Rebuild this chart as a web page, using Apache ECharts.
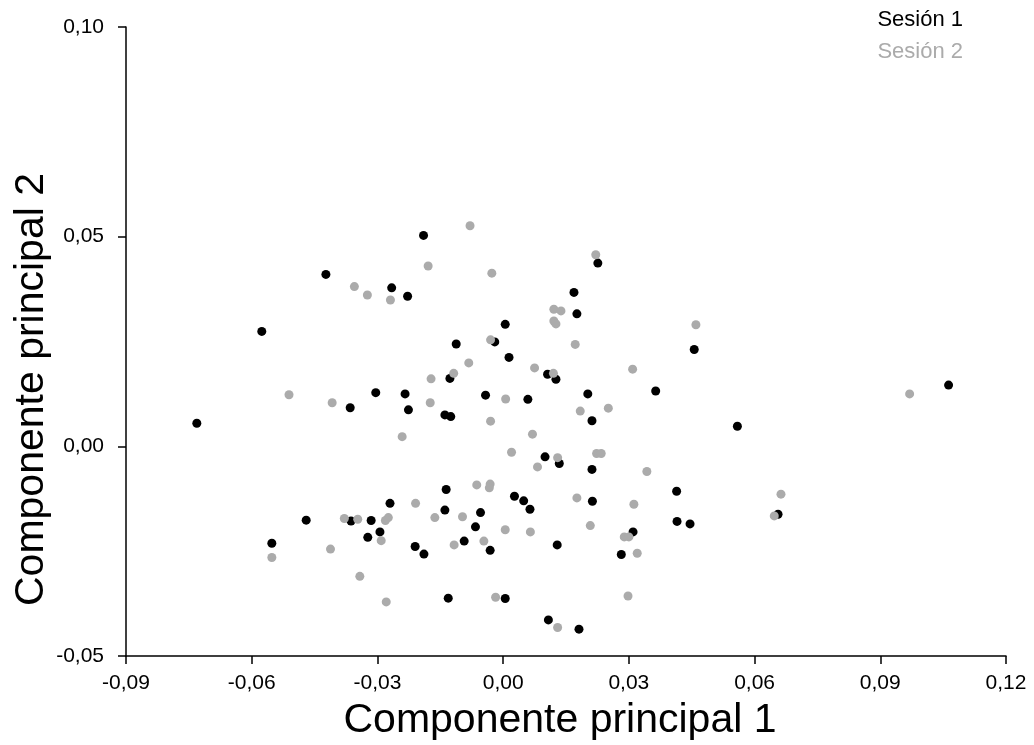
<!DOCTYPE html>
<html>
<head>
<meta charset="utf-8">
<script src="https://cdn.jsdelivr.net/npm/echarts@6/dist/echarts.min.js"></script>
<style>
html,body{margin:0;padding:0;background:#fff;}
#chart{width:1034px;height:745px;}
</style>
</head>
<body>
<div id="chart"></div>
<script>
// Series names
const seriesNames = ['Sesión 1', 'Sesión 2'];

// Sesión 1 (black): [PC1, PC2]
const session1 = [
  [-0.0423, 0.0410], [-0.0576, 0.0274], [-0.0365, 0.0092], [-0.0304, 0.0128],
  [-0.0731, 0.0055], [-0.0190, 0.0503], [-0.0266, 0.0378], [-0.0228, 0.0358],
  [0.0005, 0.0291], [-0.0112, 0.0244], [-0.0020, 0.0249], [0.0014, 0.0212],
  [0.0106, 0.0172], [0.0126, 0.0160], [-0.0127, 0.0162], [-0.0234, 0.0125],
  [-0.0042, 0.0122], [0.0059, 0.0112], [-0.0226, 0.0087], [-0.0139, 0.0075],
  [-0.0125, 0.0071], [0.0226, 0.0437], [0.0169, 0.0367], [0.0176, 0.0316],
  [0.0456, 0.0231], [0.0202, 0.0125], [0.0364, 0.0132], [0.0212, 0.0061],
  [0.0559, 0.0048], [-0.0470, -0.0176], [-0.0363, -0.0178], [-0.0315, -0.0177],
  [-0.0552, -0.0231], [-0.0323, -0.0217], [-0.0294, -0.0204], [-0.0270, -0.0136],
  [-0.0136, -0.0103], [0.0027, -0.0119], [0.0049, -0.0130], [0.0064, -0.0150],
  [-0.0139, -0.0152], [-0.0054, -0.0158], [-0.0066, -0.0192], [-0.0093, -0.0226],
  [-0.0031, -0.0248], [-0.0210, -0.0239], [-0.0189, -0.0257], [0.0129, -0.0235],
  [-0.0131, -0.0362], [0.0005, -0.0363], [0.0108, -0.0414], [0.0100, -0.0025],
  [0.0134, -0.0041], [0.0212, -0.0055], [0.0414, -0.0107], [0.0213, -0.0131],
  [0.0415, -0.0179], [0.0446, -0.0185], [0.0310, -0.0204], [0.0282, -0.0258],
  [0.0181, -0.0436], [0.1063, 0.0146], [0.0656, -0.0162]
];

// Sesión 2 (grey): [PC1, PC2]
const session2 = [
  [-0.0355, 0.0381], [-0.0324, 0.0361], [-0.0511, 0.0123], [-0.0408, 0.0104],
  [-0.0079, 0.0526], [-0.0179, 0.0430], [-0.0027, 0.0413], [-0.0269, 0.0349],
  [0.0121, 0.0327], [0.0138, 0.0323], [0.0121, 0.0299], [0.0126, 0.0292],
  [-0.0030, 0.0254], [-0.0082, 0.0199], [0.0075, 0.0187], [0.0120, 0.0174],
  [-0.0118, 0.0174], [-0.0172, 0.0161], [0.0006, 0.0113], [-0.0174, 0.0104],
  [-0.0030, 0.0060], [-0.0241, 0.0023], [0.0070, 0.0029], [0.0221, 0.0457],
  [0.0460, 0.0290], [0.0172, 0.0243], [0.0309, 0.0184], [0.0184, 0.0084],
  [0.0251, 0.0091], [-0.0379, -0.0172], [-0.0347, -0.0174], [-0.0552, -0.0265],
  [-0.0291, -0.0225], [-0.0412, -0.0245], [-0.0342, -0.0310], [0.0020, -0.0014],
  [0.0130, -0.0027], [0.0082, -0.0049], [-0.0063, -0.0092], [-0.0031, -0.0090],
  [-0.0033, -0.0099], [-0.0209, -0.0136], [-0.0274, -0.0170], [-0.0281, -0.0177],
  [-0.0163, -0.0170], [-0.0097, -0.0168], [0.0005, -0.0199], [0.0065, -0.0204],
  [-0.0117, -0.0235], [-0.0046, -0.0226], [-0.0279, -0.0371], [-0.0018, -0.0360],
  [0.0130, -0.0432], [0.0223, -0.0017], [0.0234, -0.0017], [0.0343, -0.0060],
  [0.0176, -0.0123], [0.0312, -0.0138], [0.0208, -0.0189], [0.0289, -0.0216],
  [0.0300, -0.0216], [0.0320, -0.0255], [0.0298, -0.0357], [0.0970, 0.0125],
  [0.0663, -0.0114], [0.0647, -0.0166]
];

// Axis ranges / ticks
const xAxisRange = { min: -0.09, max: 0.12, interval: 0.03 };
const yAxisRange = { min: -0.05, max: 0.10, interval: 0.05 };
const xAxisTitle = 'Componente principal 1';
const yAxisTitle = 'Componente principal 2';

const colors = ['#000000', '#ababab'];
const FONT = '"Liberation Sans", Arial, Helvetica, sans-serif';

function fmt(v) {
  if (Math.abs(v) < 1e-9) v = 0;
  return v.toFixed(2).replace('.', ',');
}

const chart = echarts.init(document.getElementById('chart'), null, { renderer: 'canvas' });

const axisCommon = {
  axisLine: { show: true, onZero: false, lineStyle: { color: '#000', width: 1.5 } },
  axisTick: { show: true, length: 8, lineStyle: { color: '#000', width: 1.5 } },
  splitLine: { show: false },
  axisLabel: { color: '#000', fontFamily: FONT, fontSize: 21, formatter: fmt, showMinLabel: true, showMaxLabel: true },
  nameLocation: 'middle',
  nameMoveOverlap: false,
  nameTextStyle: { color: '#000', fontFamily: FONT, fontSize: 41 }
};

chart.setOption({
  backgroundColor: '#ffffff',
  animation: false,
  textStyle: { fontFamily: FONT },
  grid: { left: 126, right: 28, top: 27, bottom: 89, containLabel: false, outerBoundsMode: 'none' },
  legend: {
    data: [
      { name: seriesNames[0], icon: 'none', textStyle: { color: colors[0] } },
      { name: seriesNames[1], icon: 'none', textStyle: { color: colors[1] } }
    ],
    orient: 'vertical',
    right: 66,
    top: 4,
    itemWidth: 0,
    itemHeight: 10,
    itemGap: 10,
    selectedMode: false,
    textStyle: { fontFamily: FONT, fontSize: 22, padding: [0, 0, 0, -5] }
  },
  xAxis: Object.assign({}, axisCommon, {
    type: 'value',
    min: xAxisRange.min, max: xAxisRange.max, interval: xAxisRange.interval,
    name: xAxisTitle, nameGap: 44,
    nameTextStyle: Object.assign({}, axisCommon.nameTextStyle, { padding: [0, 12, 0, 0] }),
    axisLabel: Object.assign({}, axisCommon.axisLabel, { margin: 17 })
  }),
  yAxis: Object.assign({}, axisCommon, {
    type: 'value',
    min: yAxisRange.min, max: yAxisRange.max, interval: yAxisRange.interval,
    name: yAxisTitle, nameGap: 74, nameRotate: 90,
    nameTextStyle: Object.assign({}, axisCommon.nameTextStyle, { padding: [0, 96, 0, 0] }),
    axisLabel: Object.assign({}, axisCommon.axisLabel, { margin: 22 })
  }),
  series: [
    { name: seriesNames[0], type: 'scatter', data: session1, symbolSize: 9,
      itemStyle: { color: colors[0], opacity: 1 } },
    { name: seriesNames[1], type: 'scatter', data: session2, symbolSize: 9,
      itemStyle: { color: colors[1], opacity: 1 } }
  ]
});
</script>
</body>
</html>
